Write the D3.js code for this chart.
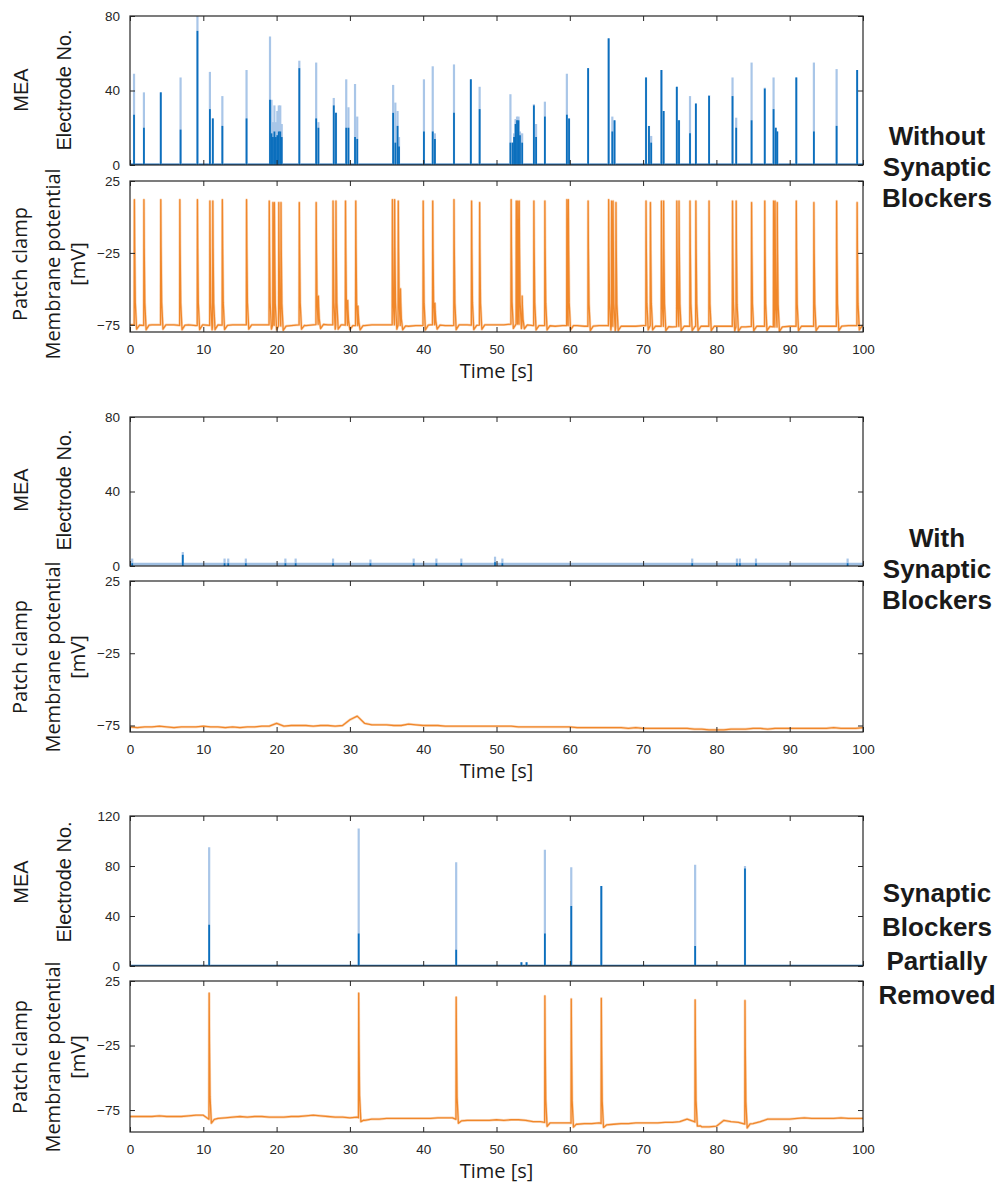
<!DOCTYPE html>
<html><head><meta charset="utf-8">
<script src="https://cdn.jsdelivr.net/npm/d3@7"></script>
<style>body{margin:0;background:#fff}svg{display:block}</style>
</head><body>
<svg id="c" width="1003" height="1187"></svg>
<script>
// ---------------- DATA ----------------
const timeTicks = [0,10,20,30,40,50,60,70,80,90,100];
const meaTicks80 = [0,40,80];
const meaTicks120 = [0,40,80,120];
const patchTicks = [-75,-25,25];
const groupLabels = [
  ["Without","Synaptic","Blockers"],
  ["With","Synaptic","Blockers"],
  ["Synaptic","Blockers","Partially","Removed"]
];

// MEA, without blockers: burst times [s], peak electrode count, dense (dark) part
const mea1Time = [0.55,1.9,4.2,6.9,9.2,10.9,11.3,12.6,15.9,
  19.1,19.3,19.5,19.7,19.9,20.1,20.3,20.5,20.7,
  23.1,25.4,25.7,27.8,28.1,29.5,29.8,30.7,31.0,35.9,36.2,36.5,36.7,40.1,41.3,41.6,44.2,46.5,47.7,
  51.9,52.2,52.4,52.6,52.8,53.0,53.2,53.5,
  55.1,55.4,56.6,59.6,59.9,62.5,65.3,65.8,66.1,70.4,70.8,71.1,72.5,72.8,74.6,74.9,76.4,77.2,79.0,
  82.2,82.7,84.8,86.6,87.8,88.1,88.3,90.9,93.3,96.4,99.2];
const mea1Peak = [49,39,39,47,80,50,25,37,51,
  69,35,23,32,23,29,32,32,22,
  56,55,23,36,28,46,31,43.5,26,43,33.5,29,15,46,53,17,54,46,42,
  38,12,17,24.7,26,26,18,17,
  32.6,22,34,49,25,52,68,26,24,47,21,15.6,51,29,42,24,37,33,37.6,
  47,25.4,55,41.5,47,20,18,47,55,51.5,51];
const mea1Core = [27,20,39,19,72,30,25,21,25,
  35,17,15,18,15,16,18,18,15,
  52,25,20,32,28,20,20,15,14,28,12,21,10,18,18,14,28,46,30,
  12,12,15,22,24,24,16,12,
  32,15,26,27,25,52,68,18,24,47,21,12,51,29,42,24,17,33,37,
  37,20,24,41,30,20,18,47,18,21,51];

// MEA, with blockers
const mea2Time = [0.3,7.2,12.9,13.4,15.8,21.2,22.6,27.7,32.8,38.7,41.8,45.2,49.8,50.8,76.7,82.8,83.2,85.4,97.9];
const mea2Peak = [4,7.5,4,4,4,4,4,4,3.5,4,4,4,5,4,4,4,4,4,4];
const mea2Core = [1.5,6,1.5,1.5,1.5,1.5,1.5,1.5,1.5,1.5,1.5,1.5,2,1.5,1.5,1.5,1.5,1.5,1.5];

// MEA, blockers partially removed
const mea3Time = [10.8,31.2,44.5,53.4,54.1,56.6,60.2,64.3,77.1,83.9];
const mea3Peak = [95,110,83,3,3,93,79,64,81,80];
const mea3Core = [33,26,13,3,3,26,48,64,16,78];

// Patch clamp baselines, read once per second (0..100 s), mV
const baseTime = d3.range(0,101,1);
const patch1Base = [-75,-75,-75.5,-75,-75,-75,-75,-75.5,-75,-75.5,-75,
  -75.5,-75,-75.5,-75,-75,-75,-75,-75,-75,-75.5,
  -76,-75.5,-75,-75.5,-75,-74.5,-75,-75,-75,-75.5,
  -75.5,-75.5,-75,-75,-75,-75,-75.5,-76,-75.5,-75.5,
  -75,-75,-75.5,-75.5,-75,-75,-75.5,-75,-75,-75,
  -75,-74.5,-74.5,-75,-75.5,-75.5,-75.5,-76,-75.5,-75.5,
  -75.5,-76,-76,-75.5,-75.5,-76,-76,-76,-76,-75.5,
  -75.5,-76,-76,-76.5,-76,-76,-76,-76,-76,-76,
  -76,-76,-76.5,-76.5,-76,-76,-76,-76.5,-76.5,-76,
  -76,-76,-76,-76,-76,-76,-76,-75.5,-75.5,-75.5];
const patch1SpikeTime = [0.6,1.9,4.2,6.8,9.2,10.9,11.3,12.6,15.9,19.0,19.5,19.7,20.3,20.6,23.1,25.4,25.7,
  27.7,28.1,29.4,29.7,30.8,31.1,35.8,36.1,36.6,36.9,40.0,41.3,41.6,44.2,46.6,47.7,
  52.0,52.7,52.9,53.1,53.5,55.1,56.6,59.6,59.8,62.5,65.3,65.7,65.9,66.3,70.4,71.0,72.5,72.8,
  74.6,74.9,76.4,77.2,79.0,82.2,82.7,84.8,86.6,87.8,88.0,88.3,90.9,93.3,96.4,99.2];
const patch1SpikePeak = [12,12,12,12,12,11,11,12,12,11,10,10,10,10,10,10,-55,
  11,11,11,-58,11,-62,12,12,11,-50,11,11,-60,12,11,10,
  12,11,11,11,-55,11,11,12,12,11,12,11,11,10,11,10,11,11,
  11,11,11,11,11,11,11,10,11,11,11,10,11,10,11,10];

const patch2Base = [-76,-76.5,-76,-76,-75.5,-76,-76.5,-76,-76,-76,-75.5,
  -76,-76,-76.5,-76,-76.5,-76,-76,-75.5,-75.5,-73.5,
  -75.5,-75,-75,-75,-75.5,-75,-75,-75.5,-75,-71,
  -68.5,-73.5,-74.5,-74.5,-74.5,-75,-75,-74,-74.5,-75,
  -75,-75,-75.5,-75.5,-75.5,-75.5,-75.5,-75.5,-75.5,-75.5,
  -75.5,-75.5,-76,-76,-76,-76,-76,-76,-76,-76,
  -76.5,-76.5,-76.5,-76.5,-76.5,-76.5,-76.5,-77,-76.5,-77,
  -77,-77,-77,-77,-77,-77,-77.5,-77.5,-78,-78,
  -78,-77.5,-77.5,-77.5,-77,-77,-77.5,-77,-77,-77,
  -77,-77,-77,-77,-77,-76.5,-77,-77,-77,-76.5];
const patch2SpikeTime = [];
const patch2SpikePeak = [];

const patch3Base = [-80,-80,-80,-80,-79.5,-80,-80,-80,-79.5,-79,-79,
  -83,-81.5,-81,-80.5,-80,-80.5,-80,-80,-80.5,-80.5,
  -80.5,-80,-80,-79.5,-79,-79.5,-80,-80.5,-80.5,-81,
  -80.5,-83,-82,-82,-81.5,-81.5,-81.5,-81.5,-81.5,-81.5,
  -81.5,-81,-81,-81,-83.5,-83,-83,-83,-83,-82.5,
  -83,-82.5,-82.5,-83,-84,-84,-85,-85,-85,-85,
  -86,-85.5,-85.5,-85,-86.5,-86,-85.5,-85.5,-85,-85,
  -85,-85,-84.5,-84.5,-84,-82,-84,-88,-88,-87.5,
  -83,-84,-84.5,-86,-85.5,-84,-82,-82,-82,-82,
  -81.5,-81,-81.5,-81.5,-81.5,-81.5,-81,-81.5,-81.5,-81.5];
const patch3SpikeTime = [10.8,31.2,44.5,56.6,60.2,64.3,77.1,83.9];
const patch3SpikePeak = [15.5,15.5,12.4,13.4,11,11.6,10.3,9.8];

// ---------------- DRAWING ----------------
const svg = d3.select("#c");
const X0 = 130, X1 = 863;
const x = d3.scaleLinear().domain([0,100]).range([X0,X1]);
const INK = "#262626";
const TICKFONT = "'Liberation Sans', Arial, sans-serif";
const LABFONT = "'Open Sans', 'Noto Sans', sans-serif";

const panels = [
  {kind:"mea", top:16, bottom:165, dom:[0,80], ticks:meaTicks80, t:mea1Time, p:mea1Peak, c:mea1Core, lab:90, baseV:0.3, baseC:"#1f6fb8", baseW:2},
  {kind:"patch", top:181, bottom:332, dom:[-80,25], ticks:patchTicks, base:patch1Base, st:patch1SpikeTime, sp:patch1SpikePeak, lab:264},
  {kind:"mea", top:417, bottom:566, dom:[0,80], ticks:meaTicks80, t:mea2Time, p:mea2Peak, c:mea2Core, lab:490, baseV:0.9, baseC:"#9fbfe2", baseW:3},
  {kind:"patch", top:581, bottom:732, dom:[-79.5,25], ticks:patchTicks, base:patch2Base, st:patch2SpikeTime, sp:patch2SpikePeak, lab:657},
  {kind:"mea", top:816, bottom:966, dom:[0,120], ticks:meaTicks120, t:mea3Time, p:mea3Peak, c:mea3Core, lab:882, baseV:0.3, baseC:"#1f6fb8", baseW:2},
  {kind:"patch", top:981, bottom:1132, dom:[-92,25], ticks:patchTicks, base:patch3Base, st:patch3SpikeTime, sp:patch3SpikePeak, lab:1057}
];

const defs = svg.append("defs");

function buildPatch(base, st, sp) {
  const bAt = t => {
    const i = Math.min(Math.floor(t), 99);
    const f = t - i;
    return base[i] * (1-f) + base[i+1] * f;
  };
  const shape = [[-0.03,0,"b"],[0,1,"p"],[0.04,0.62,"f"],[0.12,0.18,"f"],[0.3,-3,"a"],[0.7,0,"b"]];
  const pts = [];
  baseTime.forEach((t,i) => {
    const inSpike = st.some(s => t >= s - 0.05 && t <= s + 0.75);
    if (!inSpike) pts.push([t, base[i]]);
  });
  st.forEach((s,i) => {
    const b = bAt(s), p = sp[i];
    const next = i+1 < st.length ? st[i+1] : 200;
    shape.forEach(([dt,v,k]) => {
      const tt = s + dt;
      if (dt > 0 && tt >= next - 0.03) return;
      let val;
      if (k === "b") val = bAt(Math.min(tt,100));
      else if (k === "p") val = p;
      else if (k === "f") val = b + v*(p-b);
      else val = b + v;
      pts.push([Math.max(0,Math.min(100,tt)), val]);
    });
  });
  pts.sort((a,b) => a[0]-b[0]);
  return pts;
}

panels.forEach((P, idx) => {
  const y = d3.scaleLinear().domain(P.dom).range([P.bottom, P.top]);
  const g = svg.append("g");
  const cid = "clip" + idx;
  defs.append("clipPath").attr("id", cid).append("rect")
    .attr("x", X0).attr("y", P.top).attr("width", X1-X0).attr("height", P.bottom-P.top);
  const data = g.append("g").attr("clip-path", `url(#${cid})`);
  const line = d3.line().x(d => x(d[0])).y(d => y(d[1]));

  if (P.kind === "mea") {
    data.append("path").attr("d", line([[0,P.baseV],[100,P.baseV]]))
      .attr("stroke", P.baseC).attr("stroke-width", P.baseW).attr("fill","none");
    const ev = P.t.map((t,i) => ({t, p:P.p[i], c:P.c[i]}));
    data.selectAll("path.light").data(ev).join("path").attr("class","light")
      .attr("d", d => line([[d.t,0],[d.t,d.p]]))
      .attr("stroke", "#a9c6e8").attr("stroke-width", 2.2).attr("fill","none");
    data.selectAll("path.dark").data(ev).join("path").attr("class","dark")
      .attr("d", d => line([[d.t,0],[d.t,d.c]]))
      .attr("stroke", "#0b6fbd").attr("stroke-width", 1.8).attr("fill","none");
  } else {
    const pts = buildPatch(P.base, P.st, P.sp);
    data.append("path").attr("d", line(pts))
      .attr("stroke", "#f5b27a").attr("stroke-width", 2.6).attr("fill","none")
      .attr("stroke-linejoin","round").attr("opacity",0.55);
    data.append("path").attr("d", line(pts))
      .attr("stroke", "#f0872a").attr("stroke-width", 1.3).attr("fill","none")
      .attr("stroke-linejoin","round");
  }

  const styleAxis = sel => {
    sel.select(".domain").remove();
    sel.selectAll("line").attr("stroke", INK).attr("stroke-width", 1);
    sel.selectAll("text").attr("fill", INK).style("font-family", TICKFONT).style("font-size","13.5px");
  };
  const showX = P.kind === "patch";
  g.append("g").attr("transform", `translate(0,${P.bottom})`)
    .call(d3.axisBottom(x).tickValues(timeTicks).tickSize(-5).tickPadding(12)
      .tickFormat(showX ? d3.format("d") : () => ""))
    .call(styleAxis);
  g.append("g").attr("transform", `translate(0,${P.top})`)
    .call(d3.axisTop(x).tickValues(timeTicks).tickSize(-5).tickFormat(() => ""))
    .call(styleAxis);
  g.append("g").attr("transform", `translate(${X0},0)`)
    .call(d3.axisLeft(y).tickValues(P.ticks).tickSize(-5).tickPadding(10).tickFormat(d3.format("d")))
    .call(styleAxis);
  g.append("g").attr("transform", `translate(${X1},0)`)
    .call(d3.axisRight(y).tickValues(P.ticks).tickSize(-5).tickFormat(() => ""))
    .call(styleAxis);
  g.append("rect").attr("x", X0).attr("y", P.top).attr("width", X1-X0).attr("height", P.bottom-P.top)
    .attr("fill","none").attr("stroke", INK).attr("stroke-width", 1.2);

  const lab = (txt, bx, font, size) => svg.append("text")
    .attr("transform", `translate(${bx},${P.lab}) rotate(-90)`)
    .attr("text-anchor","middle").style("font-family", font).style("font-size", size)
    .attr("fill","#1a1a1a").text(txt);
  if (P.kind === "mea") {
    lab("MEA", 28, "'Liberation Sans', Arial, sans-serif", "20px");
    lab("Electrode No.", 71, "'Liberation Sans', Arial, sans-serif", "20px");
  } else {
    lab("Patch clamp", 27, LABFONT, "20px");
    lab("Membrane potential", 60, LABFONT, "20px");
    lab("[mV]", 85, LABFONT, "20px");
    svg.append("text").attr("x", (X0+X1)/2).attr("y", P.bottom + 46)
      .attr("text-anchor","middle").style("font-family", LABFONT).style("font-size","20px")
      .attr("fill","#1a1a1a").text("Time [s]");
  }
});

const groupBase = [[145,176,207],[547,578,609],[902,936,970,1004]];
groupLabels.forEach((lines, gi) => {
  lines.forEach((s, li) => {
    svg.append("text").attr("x", 937).attr("y", groupBase[gi][li])
      .attr("text-anchor","middle")
      .style("font-family","'Liberation Sans', Arial, sans-serif").style("font-weight","bold")
      .style("font-size","26px").attr("fill","#1a1a1a").text(s);
  });
});
</script>
</body></html>
